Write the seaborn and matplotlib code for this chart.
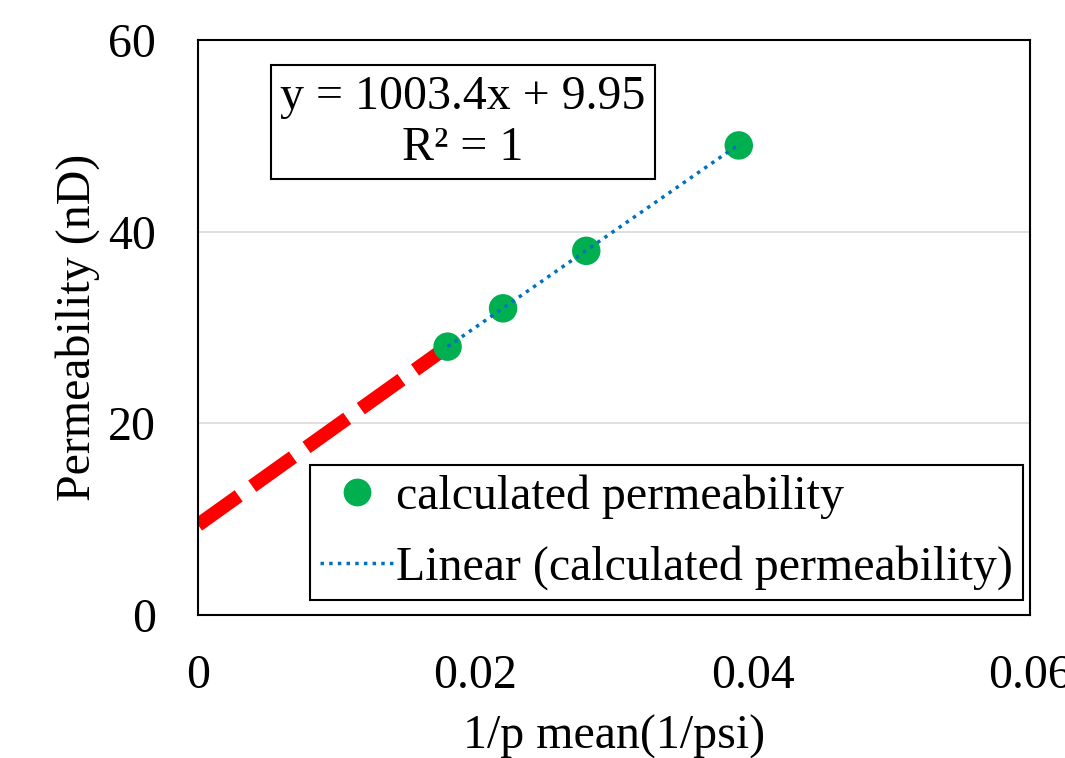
import matplotlib
matplotlib.use("Agg")
import matplotlib.pyplot as plt
import seaborn as sns
import pandas as pd
from matplotlib.lines import Line2D

# Data
inv_p = [0.018, 0.022, 0.028, 0.039]
perm = [28.0, 32.0, 38.0, 49.0]
trend_x = [0.018, 0.039]
trend_y = [28.0, 49.1]
extrap_x = [0.0, 0.018]
extrap_y = [9.4, 28.0]
x_ticks = [0, 0.02, 0.04, 0.06]
x_ticklabels = ["0", "0.02", "0.04", "0.06"]
y_ticks = [0, 20, 40, 60]
equation = "y = 1003.4x + 9.95\nR² = 1"

sns.set_theme(style="white")
plt.rcParams['font.family'] = ['Liberation Serif', 'DejaVu Serif']
for k in ['text.color', 'axes.labelcolor', 'xtick.color', 'ytick.color']:
    plt.rcParams[k] = 'black'

FS = 34.5

fig = plt.figure(figsize=(10.65, 7.58), dpi=100)
ax = fig.add_axes([198/1065, 1-615/758, (1030-198)/1065, (615-40)/758])

df = pd.DataFrame({"x": inv_p, "y": perm})
tr = pd.DataFrame({"x": trend_x, "y": trend_y})
ex = pd.DataFrame({"x": extrap_x, "y": extrap_y})

for yv in y_ticks[1:-1]:
    ax.axhline(yv, color="#d9d9d9", lw=1.2, zorder=0)

sns.lineplot(data=ex, x="x", y="y", ax=ax, color="#ff0000", lw=10,
             linestyle=(0, (3.6, 1.2)), zorder=2, legend=False)
sns.lineplot(data=tr, x="x", y="y", ax=ax, color="#0070c0", lw=2.5,
             linestyle=(0, (1, 1.5)), zorder=4, legend=False)
sns.scatterplot(data=df, x="x", y="y", ax=ax, color="#00b050", s=420,
                edgecolor="none", zorder=3, legend=False)

ax.set_xlim(0, 0.06)
ax.set_ylim(0, 60)
ax.set_xticks(x_ticks)
ax.set_xticklabels(x_ticklabels)
ax.set_yticks(y_ticks)
ax.tick_params(axis="both", labelsize=FS, length=0)
ax.tick_params(axis="y", pad=30)
ax.tick_params(axis="x", pad=28)
for sp in ax.spines.values():
    sp.set_color("black")
    sp.set_linewidth(1.5)

ax.set_xlabel("1/p mean(1/psi)", fontsize=FS, labelpad=12)
ax.set_ylabel("Permeability (nD)", fontsize=FS, labelpad=6)

h1 = Line2D([], [], marker="o", color="none", markerfacecolor="#00b050",
            markeredgecolor="none", markersize=20, label="calculated permeability")
h2 = Line2D([], [], color="#0070c0", lw=2.5, linestyle=(0, (1, 1.5)),
            label="Linear (calculated permeability)")
leg = ax.legend(handles=[h1, h2], loc="lower left",
                bbox_to_anchor=((310-198)/832, (615-600)/575),
                fontsize=FS, frameon=True, fancybox=False, framealpha=1,
                edgecolor="black", handlelength=1.55, handletextpad=0.05,
                borderpad=0.2, labelspacing=0.55, borderaxespad=0)
leg.get_frame().set_linewidth(1.5)

ax.text(0.0191, 51.4, equation, fontsize=FS, ha="center", va="center",
        linespacing=1.2,
        bbox=dict(boxstyle="square,pad=0.2", fc="white", ec="black", lw=1.5))

fig.savefig("out.png", dpi=100)
